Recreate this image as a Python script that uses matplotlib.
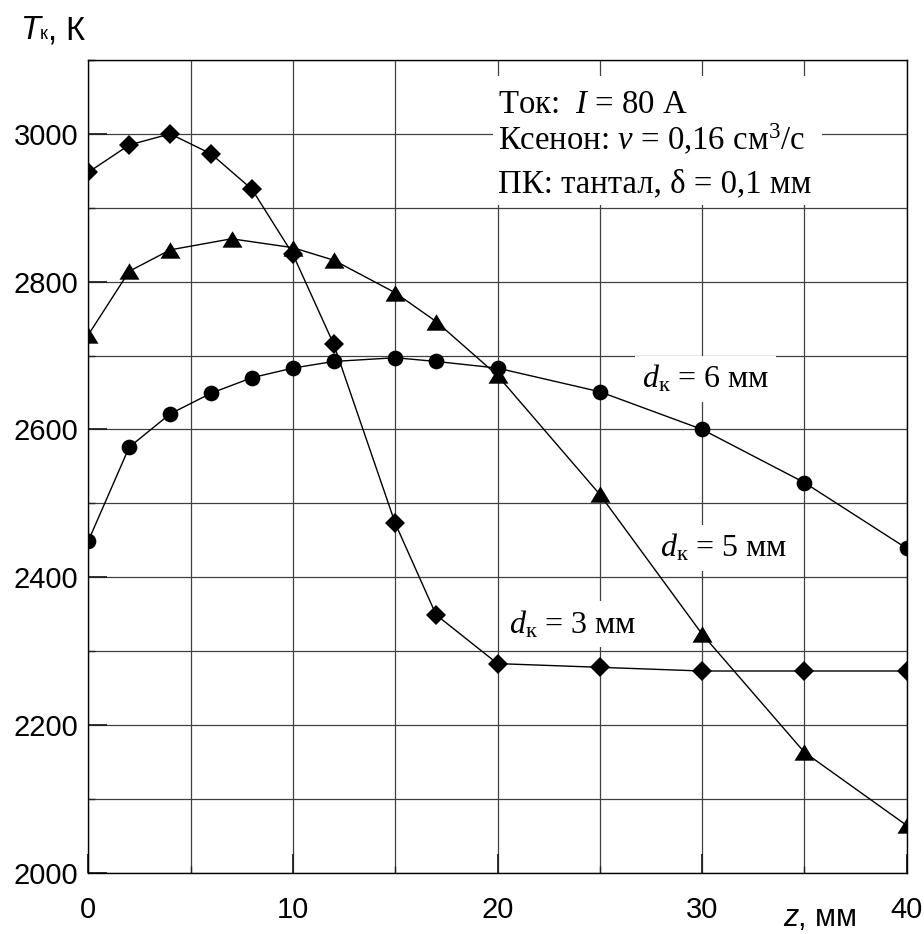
import matplotlib
matplotlib.use('Agg')
import matplotlib.pyplot as plt
from matplotlib.ticker import MultipleLocator, FixedLocator
from matplotlib.patches import Rectangle

# ---- data ----
z_d3 = [0, 2, 4, 6, 8, 10, 12, 15, 17, 20, 25, 30, 35, 40]
T_d3 = [2948, 2985, 3000, 2973, 2925, 2837, 2715, 2473, 2349, 2283, 2278, 2273, 2273, 2273]
z_d5 = [0, 2, 4, 7, 10, 12, 15, 17, 20, 25, 30, 35, 40]
T_d5 = [2728, 2814, 2843, 2858, 2846, 2829, 2785, 2746, 2673, 2512, 2323, 2163, 2064]
z_d6 = [0, 2, 4, 6, 8, 10, 12, 15, 17, 20, 25, 30, 35, 40]
T_d6 = [2449, 2576, 2621, 2649, 2670, 2683, 2692, 2697, 2692, 2683, 2651, 2600, 2528, 2439]

x_ticks = [0, 10, 20, 30, 40]
y_ticks = [2000, 2200, 2400, 2600, 2800, 3000]

plt.rcParams['mathtext.fontset'] = 'custom'
plt.rcParams['mathtext.rm'] = 'Liberation Serif'
plt.rcParams['mathtext.it'] = 'Liberation Serif:italic'
plt.rcParams['font.family'] = ['Liberation Sans', 'DejaVu Sans']

W, H = 924, 934
fig = plt.figure(figsize=(W / 100, H / 100), dpi=100)
x0, x1, yt, yb = 88.3, 906.7, 60.0, 872.7
ax = fig.add_axes([x0 / W, 1 - yb / H, (x1 - x0) / W, (yb - yt) / H])

ax.set_xlim(0, 40)
ax.set_ylim(2000, 3100)
ax.xaxis.set_major_locator(FixedLocator(x_ticks))
ax.yaxis.set_major_locator(FixedLocator(y_ticks))
ax.xaxis.set_minor_locator(MultipleLocator(5))
ax.yaxis.set_minor_locator(MultipleLocator(100))
ax.grid(True, which='both', color='#404040', lw=0.9)
ax.set_axisbelow(True)

for s in ax.spines.values():
    s.set_color('black')
    s.set_linewidth(1.0)

ax.tick_params(which='major', direction='in', length=14, width=1.3, color='#222222',
               labelsize=21)
ax.tick_params(which='minor', direction='in', length=5, width=1.0, color='#222222')
ax.tick_params(axis='y', which='major', pad=7)
ax.tick_params(axis='x', which='major', pad=17)

tri = [(-1, -0.82), (1, -0.82), (0, 0.82)]
ax.plot(z_d3, T_d3, color='black', lw=1.0, marker='D', ms=9.8, mew=0, zorder=4)
ax.plot(z_d5, T_d5, color='black', lw=1.0, marker=tri, ms=14.4, mew=0, zorder=4)
ax.plot(z_d6, T_d6, color='black', lw=1.0, marker='o', ms=11.3, mew=0, zorder=4)

def fx(X):
    return (X - x0) / (x1 - x0)

def fy(Y):
    return (yb - Y) / (yb - yt)

serif = 'Liberation Serif'
fs = 23.6
# info box
ax.add_patch(Rectangle((fx(493), fy(205)), fx(822) - fx(493), fy(76) - fy(205),
                       transform=ax.transAxes, facecolor='white', edgecolor='none', zorder=2))
ax.text(fx(498), fy(112.7), 'Ток:  $I$ = 80 А', transform=ax.transAxes, family=serif,
        fontsize=fs, va='baseline', ha='left', zorder=3)
ax.text(fx(498), fy(150), 'Ксенон: $v$ = 0,16 см$^3$/с', transform=ax.transAxes, family=serif,
        fontsize=fs, va='baseline', ha='left', zorder=3)
ax.text(fx(498), fy(192.7), 'ПК: тантал, δ = 0,1 мм', transform=ax.transAxes, family=serif,
        fontsize=fs, va='baseline', ha='left', zorder=3)

fs2 = 23
box = dict(facecolor='white', edgecolor='none', pad=5)
ax.text(fx(641.7), fy(388), r'$d_{\mathrm{к}}$ = 6 мм', transform=ax.transAxes, family=serif,
        fontsize=fs2, va='baseline', ha='left', zorder=3, bbox=box)
ax.text(fx(660), fy(556.7), r'$d_{\mathrm{к}}$ = 5 мм', transform=ax.transAxes, family=serif,
        fontsize=fs2, va='baseline', ha='left', zorder=3, bbox=box)
ax.text(fx(509), fy(633), r'$d_{\mathrm{к}}$ = 3 мм', transform=ax.transAxes, family=serif,
        fontsize=fs2, va='baseline', ha='left', zorder=3, bbox=box)

# axis labels
fig.text(20 / W, 1 - 39 / H, 'T', style='italic', fontsize=23.5, va='baseline', ha='left')
fig.text(39.5 / W, 1 - 39 / H, 'к', fontsize=13, va='baseline', ha='left')
fig.text(47.5 / W, 1 - 39 / H, ', К', fontsize=23.5, va='baseline', ha='left')

fig.text(783 / W, 1 - 926 / H, 'z', style='italic', fontsize=22, va='baseline', ha='left')
fig.text(798 / W, 1 - 926 / H, ', мм', fontsize=22, va='baseline', ha='left')

fig.savefig('out.png', dpi=100)
